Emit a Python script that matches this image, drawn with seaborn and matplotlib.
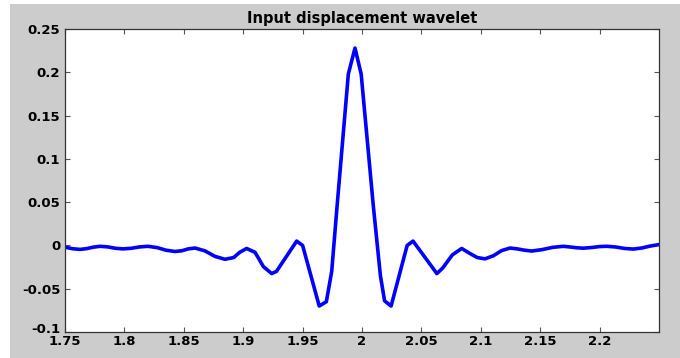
import matplotlib
matplotlib.use("Agg")
import matplotlib.pyplot as plt
import matplotlib.transforms as mtransforms
import pandas as pd
import seaborn as sns
from matplotlib.patches import Rectangle

# Sampled displacement wavelet (time in s, displacement)
time = [
    1.7500, 1.7563, 1.7626, 1.7682, 1.7739, 1.7795, 1.7860, 1.7924, 1.7988,
    1.8058, 1.8129, 1.8199, 1.8275, 1.8350, 1.8426, 1.8482, 1.8538, 1.8594,
    1.8678, 1.8763, 1.8847, 1.8920, 1.8970, 1.9029, 1.9100, 1.9170, 1.9240,
    1.9280, 1.9450, 1.9500, 1.9640, 1.9700, 1.9745, 1.9790, 1.9885, 1.9941,
    1.9993, 2.0095, 2.0155, 2.0190, 2.0245, 2.0380, 2.0430, 2.0630, 2.0680,
    2.0760, 2.0839, 2.0905, 2.0970, 2.1035, 2.1105, 2.1175, 2.1246, 2.1307,
    2.1368, 2.1428, 2.1517, 2.1606, 2.1695, 2.1751, 2.1807, 2.1863, 2.1940,
    2.2000, 2.2060, 2.2135, 2.2210, 2.2284, 2.2354, 2.2424, 2.2500,
]
displacement = [
    -0.0020, -0.0038, -0.0046, -0.0037, -0.0020, -0.0010, -0.0017, -0.0033, -0.0040,
    -0.0033, -0.0017, -0.0010, -0.0025, -0.0055, -0.0070, -0.0062, -0.0040, -0.0030,
    -0.0063, -0.0127, -0.0160, -0.0140, -0.0080, -0.0035, -0.0080, -0.0245, -0.0325,
    -0.0300, 0.0050, 0.0000, -0.0700, -0.0650, -0.0300, 0.0450, 0.1980, 0.2280,
    0.1980, 0.0460, -0.0350, -0.0640, -0.0700, 0.0000, 0.0050, -0.0325, -0.0260,
    -0.0110, -0.0035, -0.0090, -0.0140, -0.0155, -0.0120, -0.0060, -0.0030, -0.0040,
    -0.0055, -0.0065, -0.0048, -0.0022, -0.0010, -0.0018, -0.0027, -0.0032, -0.0023,
    -0.0013, -0.0010, -0.0018, -0.0035, -0.0042, -0.0030, -0.0008, 0.0010,
]

x_ticks = [1.75, 1.80, 1.85, 1.90, 1.95, 2.00, 2.05, 2.10, 2.15, 2.20]
x_labels = ["1.75", "1.8", "1.85", "1.9", "1.95", "2", "2.05", "2.1", "2.15", "2.2"]
y_ticks = [-0.10, -0.05, 0.0, 0.05, 0.10, 0.15, 0.20, 0.25]
y_labels = ["-0.1", "-0.05", "0", "0.05", "0.1", "0.15", "0.2", "0.25"]
title = "Input displacement wavelet"

sns.set_theme(style="ticks")
plt.rcParams.update({
    "font.family": ["DejaVu Sans"],
    "font.weight": "bold",
    "text.color": "black",
    "axes.titlecolor": "black",
    "axes.unicode_minus": False,
})

W, H = 680, 358
fig = plt.figure(figsize=(W / 100, H / 100), dpi=100, facecolor="white")
# grey window background
fig.patches.append(Rectangle((10 / W, 0), (W - 10) / W, (H - 4) / H,
                             transform=fig.transFigure, facecolor="#cccccc",
                             edgecolor="none", zorder=-5))

ax = fig.add_axes([65 / W, 26 / H, 594 / W, 303 / H])
ax.set_facecolor("white")

df = pd.DataFrame({"t": time, "u": displacement})
sns.lineplot(data=df, x="t", y="u", ax=ax, color="#0000ff", linewidth=2.6,
             sort=False, estimator=None)

ax.set_xlim(1.75, 2.25)
ax.set_ylim(-0.1, 0.25)
ax.set_xticks(x_ticks, x_labels)
ax.set_yticks(y_ticks, y_labels)
ax.set_xlabel("")
ax.set_ylabel("")

ax.tick_params(direction="in", top=True, right=True, length=3.6, width=0.8,
               color="#555555", labelsize=9.5, labelcolor="black")
ax.tick_params(axis="x", pad=2.0)
ax.tick_params(axis="y", pad=3.5)
for lab in ax.get_xticklabels() + ax.get_yticklabels():
    lab.set_fontweight("bold")
for sp in ax.spines.values():
    sp.set_color("#333333")
    sp.set_linewidth(0.9)

# lift the bottom y label a little so it clears the first x label
lift = mtransforms.ScaledTranslation(0, 4 / 100, fig.dpi_scale_trans)
for tick in ax.yaxis.get_major_ticks()[:1]:
    tick.label1.set_transform(tick.label1.get_transform() + lift)

ax.set_title(title, fontsize=10.5, fontweight="bold", color="black", pad=4.5)

fig.savefig("out.png", dpi=100, facecolor=fig.get_facecolor())
